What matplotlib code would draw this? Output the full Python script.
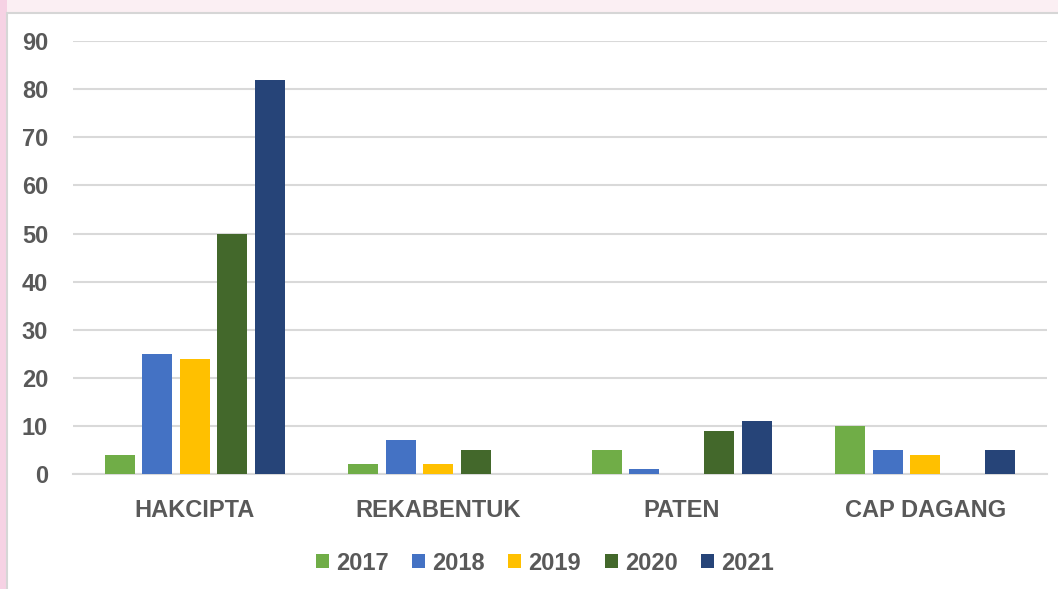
import matplotlib
matplotlib.use("Agg")
import matplotlib.pyplot as plt
import numpy as np
from matplotlib.patches import Rectangle

categories = ["HAKCIPTA", "REKABENTUK", "PATEN", "CAP DAGANG"]
years = ["2017", "2018", "2019", "2020", "2021"]
v2017 = [4, 2, 5, 10]
v2018 = [25, 7, 1, 5]
v2019 = [24, 2, 0, 4]
v2020 = [50, 5, 9, 0]
v2021 = [82, 0, 11, 5]
colors = ["#70AD47", "#4472C4", "#FFC000", "#43682B", "#264478"]

plt.rcParams["font.family"] = ["Liberation Sans", "DejaVu Sans"]
plt.rcParams["font.weight"] = "bold"

fig = plt.figure(figsize=(10.58, 5.89), dpi=100)
fig.patch.set_facecolor("white")

# decorative frame bits behind the chart
fig.patches.append(Rectangle((0, 0.978), 1, 0.022, transform=fig.transFigure,
                             facecolor="#FBEFF3", edgecolor="none", zorder=-3))
fig.patches.append(Rectangle((0, 0), 0.007, 1, transform=fig.transFigure,
                             facecolor="#F6D2E4", edgecolor="none", zorder=-3))
fig.patches.append(Rectangle((0.007, -0.01), 1.0, 0.988, transform=fig.transFigure,
                             facecolor="white", edgecolor="#D6D6D6", linewidth=1.5, zorder=-2))

ax = fig.add_axes([0.069, 0.1952, 0.9206, 0.7348])
ax.set_zorder(2)
ax.set_facecolor("none")

x = np.arange(len(categories))
series = [v2017, v2018, v2019, v2020, v2021]
step = 0.154
width = 0.123
for i, (vals, c, lab) in enumerate(zip(series, colors, years)):
    ax.bar(x + (i - 2) * step, vals, width=width, color=c, label=lab, zorder=3)

ax.set_xlim(-0.5, len(categories) - 0.5)
ax.set_ylim(0, 90)
ax.set_yticks(range(0, 91, 10))
ax.yaxis.grid(True, color="#D9D9D9", linewidth=1.5, zorder=0)
ax.set_axisbelow(True)
for s in ["top", "right", "left"]:
    ax.spines[s].set_visible(False)
ax.spines["bottom"].set_color("#D9D9D9")
ax.spines["bottom"].set_linewidth(1.5)
ax.tick_params(axis="both", length=0, labelsize=17, labelcolor="#595959")
ax.tick_params(axis="y", pad=18)
ax.tick_params(axis="x", pad=18)
ax.set_xticks(x)
ax.set_xticklabels(categories)
for t in ax.get_yticklabels() + ax.get_xticklabels():
    t.set_fontweight("bold")

leg = fig.legend(loc="center", bbox_to_anchor=(0.515, 0.044), ncol=5, frameon=False,
                 fontsize=17, handlelength=0.55, handleheight=0.55, handletextpad=0.3,
                 columnspacing=1.0)
for t in leg.get_texts():
    t.set_color("#595959")
    t.set_fontweight("bold")

fig.savefig("out.png", dpi=100)
